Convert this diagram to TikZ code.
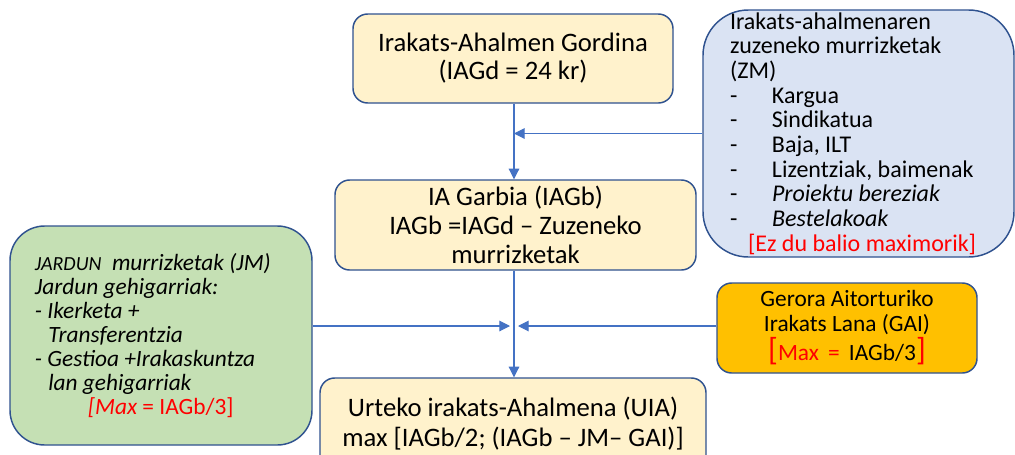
\documentclass[tikz,border=0pt]{standalone}
\usepackage{fontspec}
\setmainfont{Carlito}
\usetikzlibrary{arrows.meta}
\definecolor{boxline}{HTML}{2F528F}
\definecolor{arrowblue}{HTML}{4472C4}
\definecolor{lightyellow}{HTML}{FFF2CC}
\definecolor{lightblue}{HTML}{DAE3F3}
\definecolor{lightgreen}{HTML}{C5E0B4}
\definecolor{gold}{HTML}{FFC000}
\newcommand{\itm}{\makebox[31.5pt][l]{-}}

\begin{document}
\begin{tikzpicture}[x=0.75pt, y=-0.75pt,
    box/.style={rectangle, rounded corners=11pt, draw=boxline, line width=1.1pt, align=center, inner sep=0pt},
    arr/.style={draw=arrowblue, line width=0.8pt, -{Triangle[length=8pt,width=8pt]}}]
    \useasboundingbox (0,0) rectangle (1015,454);

    %\node (gordina) [box] at (513,58) {...};
    \node (gordina) [box, fill=lightyellow, minimum width=240pt, minimum height=66.75pt,
        font=\fontsize{20}{21}\selectfont] at (513,58.5)
        {Irakats-Ahalmen Gordina\\(IAGd = 24 kr)};
    \node (garbia) [box, fill=lightyellow, minimum width=270.75pt, minimum height=67.5pt,
        font=\fontsize{20}{21.75}\selectfont] at (515.5,225)
        {IA Garbia (IAGb)\\IAGb =IAGd – Zuzeneko\\murrizketak};
    \node (zm) [box, rounded corners=34pt, fill=lightblue, minimum width=233.25pt, minimum height=185.25pt,
        text width=192.75pt, align=flush left, font=\fontsize{18}{18.5}\selectfont] at (858.5,133.5)
        {Irakats-ahalmenaren\\zuzeneko murrizketak\\(ZM)\\
        \itm Kargua\\\itm Sindikatua\\\itm Baja, ILT\\\itm Lizentziak, baimenak\\
        \itm\textit{Proiektu bereziak}\\\itm\textit{Bestelakoak}\\
        \hspace*{13.5pt}{\color{red}[Ez du balio maximorik]}};
    \node (jm) [box, rounded corners=26pt, fill=lightgreen, minimum width=226.5pt, minimum height=164.25pt,
        text width=189pt, align=flush left, font=\fontsize{17.5}{18}\selectfont\itshape] at (161,335.5)
        {{\fontsize{15}{18}\selectfont JARDUN}\ \ murrizketak (JM)\\Jardun gehigarriak:\\
        - Ikerketa +\\\hspace*{10pt}Transferentzia\\- Gestioa +Irakaskuntza\\\hspace*{10pt}lan gehigarriak\\
        \hspace*{39.75pt}{\color{red}[Max \upshape= IAGb/3]}};
    \node (gai) [box, fill=gold, minimum width=195pt, minimum height=67.5pt,
        font=\fontsize{17.5}{18.75}\selectfont] at (847,328)
        {Gerora Aitorturiko\\Irakats Lana (GAI)\\[1pt]
        {\color{red}{\fontsize{24}{20}\selectfont[}Max \,=\,} IAGb/3{\color{red}\fontsize{24}{20}\selectfont]}};
    \node (uia) [box, fill=lightyellow, minimum width=289.5pt, minimum height=69pt,
        font=\fontsize{20}{22.5}\selectfont] at (513,424)
        {Urteko irakats-Ahalmena (UIA)\\max [IAGb/2; (IAGb – JM– GAI)]};

    \coordinate (meet) at (514,326);
    \draw[arr] (meet |- gordina.south) -- (meet |- garbia.north);
    \draw[arr] (zm.west) -- (zm.west -| meet);
    \draw[arr] (meet |- garbia.south) -- (meet |- uia.north);
    \draw[arr, shorten >=3pt] (jm.east |- meet) -- (meet);
    \draw[arr, shorten >=3pt] (gai.west |- meet) -- (meet);
\end{tikzpicture}
\end{document}
